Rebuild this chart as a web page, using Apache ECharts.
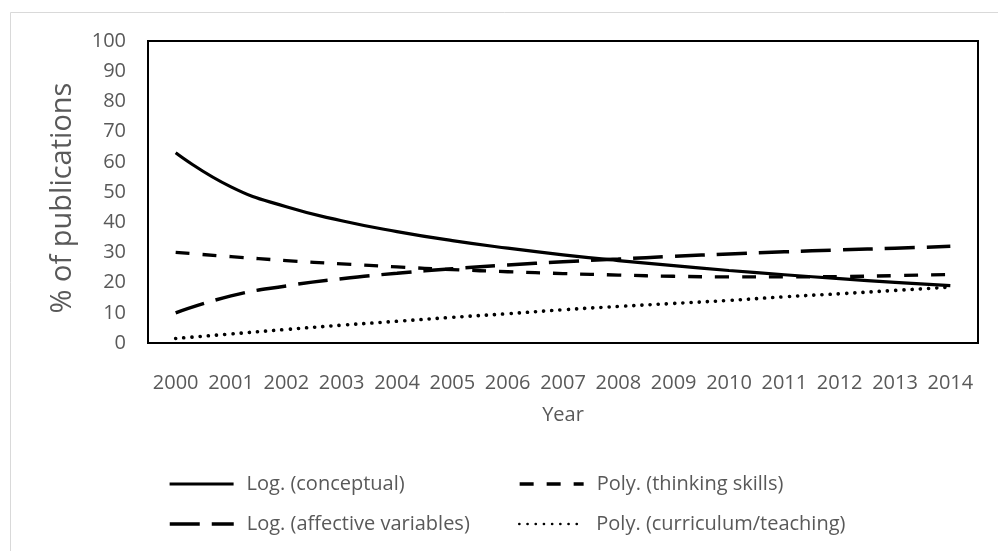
<!DOCTYPE html>
<html>
<head>
<meta charset="utf-8">
<script src="https://cdn.jsdelivr.net/npm/echarts@6/dist/echarts.min.js"></script>
<style>
  html, body { margin: 0; padding: 0; background: #fff; }
  #chart { width: 998px; height: 551px; }
</style>
</head>
<body>
<div id="chart"></div>
<script>
// Publication shares by research focus, 2000-2014 (trendlines)
const years = ['2000', '2001', '2002', '2003', '2004', '2005', '2006', '2007',
  '2008', '2009', '2010', '2011', '2012', '2013', '2014'];

const conceptual = [63.0, 51.7, 45.1, 40.5, 36.9, 33.9, 31.4, 29.2,
  27.3, 25.6, 24.0, 22.6, 21.3, 20.1, 19.0];
const thinkingSkills = [30.0, 28.6, 27.3, 26.2, 25.2, 24.3, 23.6, 23.0,
  22.5, 22.1, 21.9, 21.9, 22.0, 22.3, 22.7];
const affective = [10.0, 15.6, 18.9, 21.3, 23.1, 24.6, 25.8, 26.9,
  27.8, 28.7, 29.5, 30.2, 30.8, 31.4, 32.0];
const curriculum = [1.5, 3.0, 4.5, 5.9, 7.2, 8.5, 9.7, 11.0,
  12.1, 13.1, 14.1, 15.3, 16.3, 17.4, 18.5];

const seriesNames = ['Log. (conceptual)', 'Poly. (thinking skills)',
  'Log. (affective variables)', 'Poly. (curriculum/teaching)'];

const FONT = 'Open Sans';
const GRAY = '#595959';

const chart = echarts.init(document.getElementById('chart'), null, { renderer: 'canvas' });

function legendAt(name, left, top, lineWidth) {
  return {
    data: [name],
    left: left,
    top: top,
    orient: 'horizontal',
    itemWidth: 64,
    itemHeight: 14,
    itemGap: 0,
    padding: 0,
    selectedMode: false,
    itemStyle: { opacity: 0 },
    lineStyle: { width: lineWidth },
    textStyle: { fontFamily: FONT, fontSize: 20, color: GRAY, padding: [0, 0, 0, 8] }
  };
}

function trend(name, data, width, dash, cap) {
  return {
    name: name,
    type: 'line',
    data: data,
    smooth: true,
    symbol: 'none',
    silent: true,
    color: '#000',
    itemStyle: { color: '#000' },
    lineStyle: { color: '#000', width: width, type: dash, cap: cap || 'butt' }
  };
}

chart.setOption({
  animation: false,
  backgroundColor: '#fff',
  graphic: [{
    type: 'rect',
    shape: { x: 10.5, y: 12.5, width: 1000, height: 600 },
    style: { fill: 'none', stroke: '#d9d9d9', lineWidth: 1 },
    silent: true
  }],
  grid: {
    left: 148, top: 41, width: 830, height: 302,
    show: true, borderColor: '#000', borderWidth: 2,
    containLabel: false
  },
  legend: [
    legendAt(seriesNames[0], 168, 474, 3.2),
    legendAt(seriesNames[1], 518, 474, 3.3),
    legendAt(seriesNames[2], 168, 514, 3.5),
    legendAt(seriesNames[3], 518, 514, 2.6)
  ],
  xAxis: {
    type: 'category',
    data: years,
    boundaryGap: true,
    name: 'Year',
    nameLocation: 'middle',
    nameGap: 62,
    nameTextStyle: { fontFamily: FONT, fontSize: 20, color: GRAY },
    axisLine: { show: false },
    axisTick: { show: false },
    axisLabel: { fontFamily: FONT, fontSize: 20, color: GRAY, margin: 30, interval: 0 },
    splitLine: { show: false }
  },
  yAxis: {
    type: 'value',
    min: 0, max: 100, interval: 10,
    name: '% of publications',
    nameLocation: 'middle',
    nameGap: 71,
    nameTextStyle: { fontFamily: FONT, fontSize: 29, color: GRAY, padding: [0, 12, 0, 0] },
    axisLine: { show: false },
    axisTick: { show: false },
    axisLabel: { fontFamily: FONT, fontSize: 20, color: GRAY, margin: 22 },
    splitLine: { show: false }
  },
  series: [
    trend(seriesNames[0], conceptual, 3.2, 'solid'),
    trend(seriesNames[1], thinkingSkills, 3.3, [14, 13]),
    trend(seriesNames[2], affective, 3.5, [30, 12]),
    trend(seriesNames[3], curriculum, 3.6, [0.1, 8.1], 'round')
  ]
});
</script>
</body>
</html>
